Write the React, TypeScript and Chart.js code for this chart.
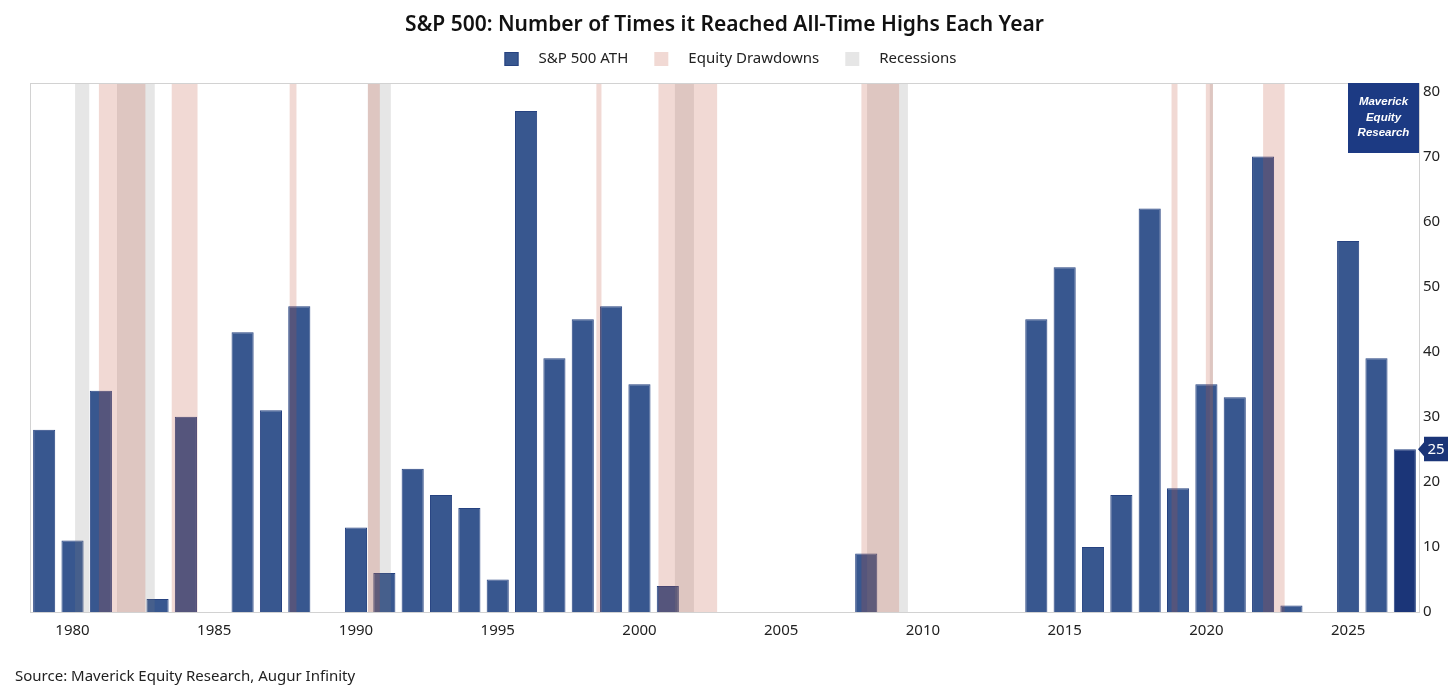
import React, { useEffect, useRef } from "react";
import { Chart, registerables } from "chart.js";

Chart.register(...registerables);

// ---- data (x positions as they sit on the chart's year axis) ----
const barYears = [1979, 1980, 1981, 1983, 1984, 1986, 1987, 1988, 1990, 1991, 1992, 1993, 1994, 1995, 1996, 1997, 1998, 1999, 2000, 2001, 2008, 2014, 2015, 2016, 2017, 2018, 2019, 2020, 2021, 2022, 2023, 2025, 2026, 2027];
const athCounts = [28, 11, 34, 2, 30, 43, 31, 47, 13, 6, 22, 18, 16, 5, 77, 39, 45, 47, 35, 4, 9, 45, 53, 10, 18, 62, 19, 35, 33, 70, 1, 57, 39, 25];
const xTickYears = [1980, 1985, 1990, 1995, 2000, 2005, 2010, 2015, 2020, 2025];
const yTickValues = [0, 10, 20, 30, 40, 50, 60, 70, 80];
const drawdownStarts = [1980.93, 1983.5, 1987.66, 1990.42, 1998.48, 2000.67, 2007.83, 2018.77, 2019.98, 2022.0];
const drawdownEnds = [1982.57, 1984.41, 1987.9, 1990.84, 1998.66, 2002.74, 2009.16, 2018.98, 2020.23, 2022.76];
const recessionStarts = [1980.09, 1981.57, 1990.42, 2001.25, 2008.03, 2020.12];
const recessionEnds = [1980.59, 1982.9, 1991.23, 2001.92, 2009.47, 2020.23];
const titleText = "S&P 500: Number of Times it Reached All-Time Highs Each Year";
const legendLabels = ["S&P 500 ATH", "Equity Drawdowns", "Recessions"];
const watermarkLines = ["Maverick", "Equity", "Research"];
const sourceText = "Source: Maverick Equity Research, Augur Infinity";

// ---- styles ----
const FONT = "'Noto Sans', 'Open Sans', sans-serif";
const BAR_COLOR = "#38578f";
const BAR_LAST_COLOR = "#1b3578";
const BAR_BORDER = "#264280";
const DRAWDOWN_FILL = "rgba(190, 80, 60, 0.22)";
const RECESSION_FILL = "rgba(128, 128, 128, 0.2)";
const LEGEND_COLORS = [BAR_COLOR, "#f1d9d4", "#e6e6e6"];
const NAVY = "#1c3a83";
const TEXT = "#222222";

const overlayPlugin = {
  id: "overlay",
  afterDatasetsDraw(chart: any) {
    const { ctx, chartArea, scales } = chart;
    const xs = scales.x;
    ctx.save();
    ctx.beginPath();
    ctx.rect(chartArea.left, chartArea.top, chartArea.right - chartArea.left, chartArea.bottom - chartArea.top);
    ctx.clip();
    ctx.fillStyle = RECESSION_FILL;
    recessionStarts.forEach((s, i) => {
      const x0 = xs.getPixelForValue(s);
      const x1 = xs.getPixelForValue(recessionEnds[i]);
      ctx.fillRect(x0, chartArea.top, x1 - x0, chartArea.bottom - chartArea.top);
    });
    ctx.fillStyle = DRAWDOWN_FILL;
    drawdownStarts.forEach((s, i) => {
      const x0 = xs.getPixelForValue(s);
      const x1 = xs.getPixelForValue(drawdownEnds[i]);
      ctx.fillRect(x0, chartArea.top, x1 - x0, chartArea.bottom - chartArea.top);
    });
    ctx.restore();
  },
  afterDraw(chart: any) {
    const { ctx, chartArea, scales, width } = chart;
    const ys = scales.y;
    ctx.save();
    // plot frame
    ctx.strokeStyle = "#d2d2d2";
    ctx.lineWidth = 1;
    ctx.strokeRect(Math.round(chartArea.left) + 0.5, Math.round(chartArea.top) + 0.5, Math.round(chartArea.right - chartArea.left), Math.round(chartArea.bottom - chartArea.top));

    // title
    ctx.fillStyle = "#111111";
    ctx.font = `600 21px ${FONT}`;
    ctx.textAlign = "center";
    ctx.textBaseline = "middle";
    ctx.fillText(titleText, (chartArea.left + chartArea.right) / 2, 25);

    // watermark box
    const bw = 71, bh = 70;
    const bx = chartArea.right - bw;
    const by = chartArea.top;
    ctx.fillStyle = NAVY;
    ctx.fillRect(bx, by, bw, bh);
    ctx.fillStyle = "#ffffff";
    ctx.font = `italic bold 11.5px 'Liberation Sans', Arial, sans-serif`;
    ctx.textAlign = "center";
    ctx.textBaseline = "middle";
    watermarkLines.forEach((t, i) => {
      ctx.fillText(t, bx + bw / 2, by + 19 + i * 15.5);
    });

    // latest value tag on right axis
    const last = athCounts[athCounts.length - 1];
    const ty = ys.getPixelForValue(last);
    const tipX = chartArea.right - 1;
    const boxL = tipX + 6;
    const boxR = boxL + 24;
    ctx.fillStyle = "#1a3477";
    ctx.beginPath();
    ctx.moveTo(tipX, ty);
    ctx.lineTo(boxL, ty - 7);
    ctx.lineTo(boxL, ty - 12.5);
    ctx.lineTo(boxR, ty - 12.5);
    ctx.lineTo(boxR, ty + 12);
    ctx.lineTo(boxL, ty + 12);
    ctx.lineTo(boxL, ty + 7);
    ctx.closePath();
    ctx.fill();
    ctx.fillStyle = "#ffffff";
    ctx.font = `15px ${FONT}`;
    ctx.textAlign = "center";
    ctx.fillText(String(last), (boxL + boxR) / 2, ty);

    // legend
    ctx.font = `15px ${FONT}`;
    ctx.textAlign = "left";
    const box = 14, gapText = 20, gapItem = 26;
    const widths = legendLabels.map((l) => ctx.measureText(l).width);
    const total = widths.reduce((a, w) => a + box + gapText + w, 0) + gapItem * (legendLabels.length - 1);
    let lx = (chartArea.left + chartArea.right) / 2 - total / 2 + 6;
    const ly = 59;
    legendLabels.forEach((l, i) => {
      ctx.fillStyle = LEGEND_COLORS[i];
      ctx.fillRect(lx, ly - 7, box, box);
      if (i === 0) {
        ctx.strokeStyle = BAR_BORDER;
        ctx.strokeRect(lx + 0.5, ly - 6.5, box - 1, box - 1);
      }
      ctx.fillStyle = TEXT;
      ctx.fillText(l, lx + box + gapText, ly);
      lx += box + gapText + widths[i] + gapItem;
    });

    // source
    ctx.fillStyle = TEXT;
    ctx.font = `15px ${FONT}`;
    ctx.textAlign = "left";
    ctx.fillText(sourceText, 15, 677);
    ctx.restore();
  },
};

export default function App() {
  const ref = useRef<HTMLCanvasElement | null>(null);
  useEffect(() => {
    document.body.style.margin = "0";
    const canvas = ref.current;
    if (!canvas) return;
    const chart = new Chart(canvas, {
      type: "bar",
      data: {
        datasets: [
          {
            label: legendLabels[0],
            data: barYears.map((x, i) => ({ x, y: athCounts[i] })),
            backgroundColor: barYears.map((_, i) => (i === barYears.length - 1 ? BAR_LAST_COLOR : BAR_COLOR)),
            borderColor: BAR_BORDER,
            borderWidth: 1,
            borderSkipped: "bottom",
            categoryPercentage: 1,
            barPercentage: 0.78,
          } as any,
        ],
      },
      options: {
        responsive: false,
        animation: false,
        layout: { padding: { left: 30, right: 0, top: 83, bottom: 40 } },
        plugins: {
          legend: { display: false },
          tooltip: { enabled: false },
          title: { display: false },
        },
        scales: {
          x: {
            type: "linear",
            min: 1978.5,
            max: 2027.5,
            offset: false,
            grid: { display: false, drawTicks: false },
            border: { display: true, color: "#cccccc" },
            ticks: {
              padding: 10,
              color: TEXT,
              font: { size: 15, family: FONT },
              autoSkip: false,
              maxRotation: 0,
              callback: (v: any) => String(v),
            },
            afterBuildTicks: (s: any) => {
              s.ticks = xTickYears.map((v) => ({ value: v }));
            },
            afterFit: (s: any) => {
              s.height = 48;
            },
          } as any,
          y: {
            type: "linear",
            position: "right",
            min: 0,
            max: 81.3,
            grid: { display: false, drawTicks: false },
            border: { display: true, color: "#cccccc" },
            ticks: {
              padding: 4,
              color: TEXT,
              font: { size: 15, family: FONT },
              callback: (v: any) => String(v),
            },
            afterBuildTicks: (s: any) => {
              s.ticks = yTickValues.map((v) => ({ value: v }));
            },
            afterFit: (s: any) => {
              s.width = 37;
            },
          } as any,
        },
      },
      plugins: [overlayPlugin],
    });
    return () => chart.destroy();
  }, []);
  return (
    <div style={{ width: 1456, height: 700, background: "#ffffff" }}>
      <canvas ref={ref} width={1456} height={700} style={{ display: "block" }} />
    </div>
  );
}
